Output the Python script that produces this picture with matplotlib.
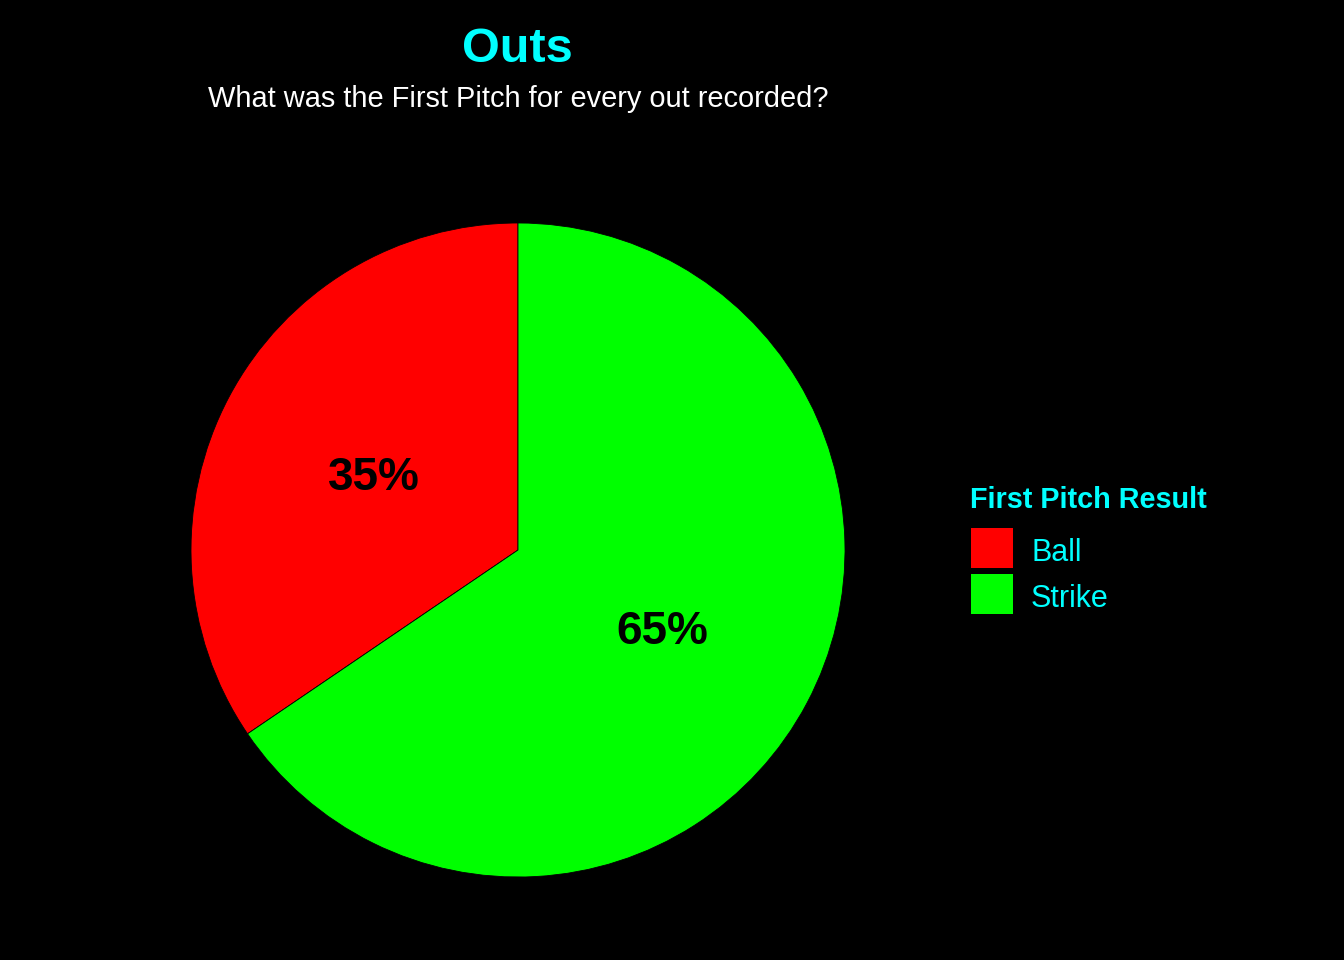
import matplotlib.pyplot as plt
from matplotlib.patches import Rectangle

# data
results = ["Ball", "Strike"]
shares = [34.5, 65.5]
pct_labels = ["35%", "65%"]
colors = ["#FF0000", "#00FF00"]

W, H = 1344, 960
fig = plt.figure(figsize=(W / 100, H / 100), dpi=100, facecolor="black")

# pie centre ~ (518, 550) px, radius ~ 327 px
cx, cy, r = 518, 550, 327
ax = fig.add_axes([(cx - r) / W, (H - cy - r) / H, 2 * r / W, 2 * r / H])
ax.set_facecolor("black")

wedges, texts = ax.pie(
    shares, colors=colors, startangle=90, counterclock=True,
    labels=pct_labels, labeldistance=0.5, radius=1,
    wedgeprops=dict(edgecolor="black", linewidth=0.6),
    textprops=dict(color="black", fontsize=33, fontweight="bold",
                   family="Liberation Sans", ha="center",
                   va="center_baseline"))
ax.set_xlim(-1, 1)
ax.set_ylim(-1, 1)
ax.set_aspect("equal")
ax.axis("off")

fig.text(517 / W, 1 - 49 / H, "Outs", color="#00FFFF", fontsize=35,
         fontweight="bold", family="Liberation Sans", ha="center", va="center")
fig.text(518 / W, 1 - 99 / H, "What was the First Pitch for every out recorded?",
         color="white", fontsize=20.9, family="Liberation Sans",
         ha="center", va="center")

# legend, drawn by hand in pixel positions
fig.text(970 / W, 1 - 508 / H, "First Pitch Result", color="#00FFFF",
         fontsize=20.8, fontweight="bold", family="Liberation Sans",
         ha="left", va="baseline")
for i, (lab, c) in enumerate(zip(results, colors)):
    top = 528 + 46 * i
    fig.add_artist(Rectangle((971 / W, 1 - (top + 40) / H), 42 / W, 40 / H,
                             facecolor=c, edgecolor="none",
                             transform=fig.transFigure))
    fig.text(1031 / W, 1 - (top + 33) / H, lab, color="#00FFFF", fontsize=22,
             family="Liberation Sans", ha="left", va="baseline")

fig.savefig("out.png", dpi=100, facecolor="black")
